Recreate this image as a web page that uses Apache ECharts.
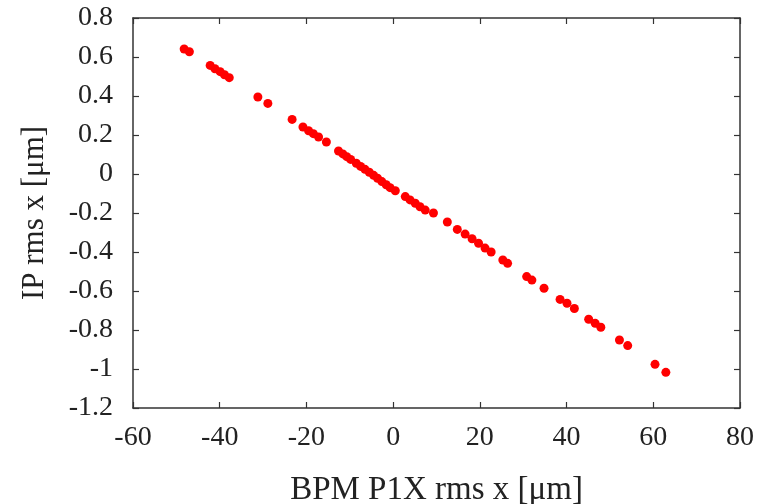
<!DOCTYPE html>
<html>
<head>
<meta charset="utf-8">
<script src="https://cdn.jsdelivr.net/npm/echarts@6/dist/echarts.min.js"></script>
<style>html,body{margin:0;padding:0;background:#fff;}#c{width:765px;height:504px;}</style>
</head>
<body>
<div id="c"></div>
<script>
const xValues = [-48.2,-47.0,-42.2,-41.1,-39.9,-38.9,-37.8,-31.2,-28.9,-23.3,-20.8,-19.5,-18.4,-17.2,-15.4,
  -12.6,-11.6,-10.7,-9.8,-8.5,-7.5,-6.5,-5.5,-4.5,-3.6,-2.6,-1.6,-0.7,0.5,
  2.8,3.9,5.1,6.2,7.4,9.3,12.5,14.8,16.6,18.2,19.7,21.2,22.6,25.3,26.4,30.8,32.0,34.8,
  38.5,40.1,41.8,45.1,46.6,47.9,52.2,54.1,60.4,62.9];
const yValues = [0.641,0.627,0.557,0.540,0.525,0.509,0.494,0.395,0.362,0.280,0.241,0.222,0.207,0.190,0.164,
  0.118,0.103,0.089,0.075,0.055,0.039,0.024,0.009,-0.007,-0.022,-0.039,-0.055,-0.070,-0.086,
  -0.116,-0.133,-0.150,-0.168,-0.185,-0.200,-0.246,-0.284,-0.308,-0.332,-0.355,-0.380,-0.400,-0.441,-0.458,-0.526,-0.544,-0.586,
  -0.643,-0.663,-0.690,-0.745,-0.766,-0.786,-0.851,-0.880,-0.976,-1.017];
const xTitle = 'BPM P1X rms x [\u03bcm]';
const yTitle = 'IP rms x [\u03bcm]';

const font = "'Liberation Serif', 'Times New Roman', Times, serif";
const axisLine = {show:true, onZero:false, lineStyle:{color:'#333', width:1.5}};
const axisTick = {show:true, inside:true, length:6, lineStyle:{color:'#333', width:1.2}};
const chart = echarts.init(document.getElementById('c'));
chart.setOption({
  animation:false,
  backgroundColor:'#fff',
  grid:{left:133, right:25, top:18, bottom:96, containLabel:false, outerBoundsMode:'none'},
  xAxis:[{
    type:'value', min:-60, max:80, interval:20, position:'bottom',
    axisLine, axisTick, splitLine:{show:false},
    axisLabel:{fontFamily:font, fontSize:28, color:'#222', margin:16},
    name:xTitle, nameLocation:'middle', nameGap:66,
    nameTextStyle:{fontFamily:font, fontSize:33, color:'#222'}
  },{
    type:'value', min:-60, max:80, interval:20, position:'top',
    axisLine, axisTick, axisLabel:{show:false}, splitLine:{show:false}
  }],
  yAxis:[{
    type:'value', min:-1.2, max:0.8, interval:0.2, position:'left',
    axisLine, axisTick, splitLine:{show:false},
    axisLabel:{fontFamily:font, fontSize:28, color:'#222', margin:20,
      formatter:v=>String(Math.round(v*10)/10)},
    name:yTitle, nameLocation:'middle', nameGap:83,
    nameTextStyle:{fontFamily:font, fontSize:31, color:'#222'}
  },{
    type:'value', min:-1.2, max:0.8, interval:0.2, position:'right',
    axisLine, axisTick, axisLabel:{show:false}, splitLine:{show:false}
  }],
  series:[{
    type:'scatter', symbol:'circle', symbolSize:9,
    itemStyle:{color:'#f00', opacity:1},
    data:xValues.map((x,i)=>[x,yValues[i]])
  }]
});
</script>
</body>
</html>
